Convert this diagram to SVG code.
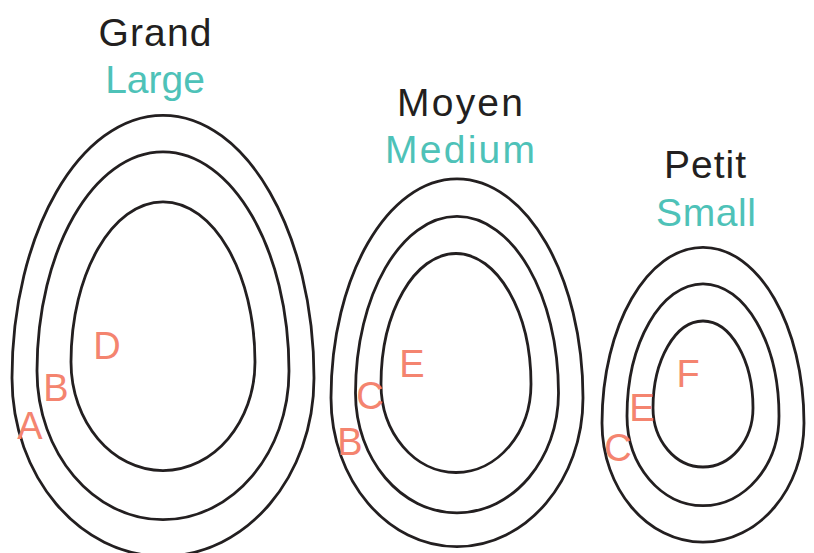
<svg xmlns="http://www.w3.org/2000/svg" width="814" height="553" viewBox="0 0 814 553">
<style>
.egg{fill:none;stroke:#231f20;stroke-width:2.8}
.fr{font-family:"Liberation Sans",Arial,sans-serif;font-size:39px;fill:#231f20;text-anchor:middle}
.en{font-family:"Liberation Sans",Arial,sans-serif;font-size:39px;fill:#4ec2b8;text-anchor:middle}
.lt{font-family:"Liberation Sans",Arial,sans-serif;font-size:38px;fill:#f4846f;text-anchor:middle}
</style>
<rect width="814" height="553" fill="#ffffff"/>
<g id="large">
<text class="fr" x="155" y="46" textLength="113" lengthAdjust="spacing">Grand</text>
<text class="en" x="155" y="93">Large</text>
<path class="egg" d="M12,378 C12,232.9 79.6,115.3 163,115.3 C246.4,115.3 314,232.9 314,378 C314,476.4 246.4,556.2 163,556.2 C79.6,556.2 12,476.4 12,378Z"/>
<path class="egg" d="M37,371 C37,249.9 93.4,151.8 163,151.8 C232.6,151.8 289,249.9 289,371 C289,453.1 232.6,519.7 163,519.7 C93.4,519.7 37,453.1 37,371Z"/>
<path class="egg" d="M71,362 C71,273.6 112.2,201.9 163,201.9 C213.8,201.9 255,273.6 255,362 C255,422 213.8,470.6 163,470.6 C112.2,470.6 71,422 71,362Z"/>
<text class="lt" x="107" y="359">D</text>
<text class="lt" x="56" y="401">B</text>
<text class="lt" x="30" y="439">A</text>
</g>
<g id="medium">
<text class="fr" x="460" y="116" textLength="126" lengthAdjust="spacing">Moyen</text>
<text class="en" x="460" y="163" textLength="150" lengthAdjust="spacing">Medium</text>
<path class="egg" d="M331,398 C331,276.9 387.4,178.8 457,178.8 C526.6,178.8 583,276.9 583,398 C583,480.1 526.6,546.7 457,546.7 C387.4,546.7 331,480.1 331,398Z"/>
<path class="egg" d="M355.5,393 C355.5,295.5 400.9,216.4 457,216.4 C513.1,216.4 558.5,295.5 558.5,393 C558.5,459.2 513.1,512.8 457,512.8 C400.9,512.8 355.5,459.2 355.5,393Z"/>
<path class="egg" d="M381,384 C381,311.9 414.6,253.5 456,253.5 C497.4,253.5 531,311.9 531,384 C531,432.9 497.4,472.5 456,472.5 C414.6,472.5 381,432.9 381,384Z"/>
<text class="lt" x="412" y="377">E</text>
<text class="lt" x="370" y="409">C</text>
<text class="lt" x="350" y="455">B</text>
</g>
<g id="small">
<text class="fr" x="705" y="178" textLength="82" lengthAdjust="spacing">Petit</text>
<text class="en" x="706" y="226" textLength="100" lengthAdjust="spacing">Small</text>
<path class="egg" d="M602,423 C602,325.9 647.2,247.3 703,247.3 C758.8,247.3 804,325.9 804,423 C804,488.8 758.8,542.2 703,542.2 C647.2,542.2 602,488.8 602,423Z"/>
<path class="egg" d="M627,416 C627,343 661,283.8 703,283.8 C745,283.8 779,343 779,416 C779,465.5 745,505.7 703,505.7 C661,505.7 627,465.5 627,416Z"/>
<path class="egg" d="M653,408 C653,360 675.4,321 703,321 C730.6,321 753,360 753,408 C753,440.6 730.6,467 703,467 C675.4,467 653,440.6 653,408Z"/>
<text class="lt" x="688" y="387">F</text>
<text class="lt" x="642" y="421">E</text>
<text class="lt" x="618" y="461">C</text>
</g>
<g id="connectors"/>
</svg>
